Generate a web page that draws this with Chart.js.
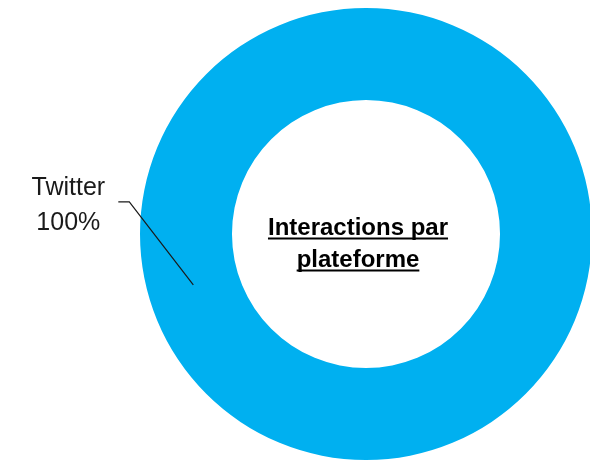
<!DOCTYPE html>
<html>
<head>
<meta charset="utf-8">
<script src="https://cdn.jsdelivr.net/npm/chart.js@4/dist/chart.umd.min.js"></script>
<style>
	html, body { margin: 0; padding: 0; background: #fff; overflow: hidden; }
	#chart { display: block; }
</style>
</head>
<body>
<canvas id="chart" width="600" height="460"></canvas>
<script>
const labels = ['Twitter'];
const values = [100];
const colors = ['#00B0F0'];
const centerLines = ['Interactions par', 'plateforme'];

// angle (deg, canvas coords) where the leader line touches the ring
const labelAngle = 163.6;

const total = values.reduce((a, b) => a + b, 0);

const doughnutText = {
	id: 'doughnutText',
	afterDraw(chart) {
		const ctx = chart.ctx;
		const arc = chart.getDatasetMeta(0).data[0];
		if (!arc) return;
		const { x, y, innerRadius, outerRadius } = arc.getProps(
			['x', 'y', 'innerRadius', 'outerRadius'],
			true
		);

		ctx.save();

		// title in the hole, bold + underlined
		ctx.fillStyle = '#000';
		ctx.strokeStyle = '#000';
		ctx.font = 'bold 24px "Liberation Sans", Arial, sans-serif';
		ctx.textAlign = 'center';
		ctx.textBaseline = 'alphabetic';
		centerLines.forEach((line, i) => {
			const tx = x - 8;
			const ty = y + 1 + i * 32;
			ctx.fillText(line, tx, ty);
			const w = ctx.measureText(line).width;
			ctx.lineWidth = 2;
			ctx.beginPath();
			ctx.moveTo(tx - w / 2, ty + 3.5);
			ctx.lineTo(tx + w / 2, ty + 3.5);
			ctx.stroke();
		});

		// data label with leader line
		const a = (labelAngle * Math.PI) / 180;
		const midR = (innerRadius + outerRadius) / 2;
		const ax = x + midR * Math.cos(a);
		const ay = y + midR * Math.sin(a);
		const ex = ax - 64;
		const ey = ay - 83;

		ctx.strokeStyle = '#1a1a1a';
		ctx.lineWidth = 1.2;
		ctx.beginPath();
		ctx.moveTo(ex - 11, ey);
		ctx.lineTo(ex, ey);
		ctx.lineTo(ax, ay);
		ctx.stroke();

		const pct = Math.round((values[0] / total) * 100) + '%';
		ctx.fillStyle = '#1a1a1a';
		ctx.font = '25px "Liberation Sans", Arial, sans-serif';
		ctx.textAlign = 'center';
		ctx.fillText(labels[0], ex - 61, ey - 7);
		ctx.fillText(pct, ex - 61, ey + 28);

		ctx.restore();
	},
};

new Chart(document.getElementById('chart'), {
	type: 'doughnut',
	data: {
		labels,
		datasets: [
			{
				data: values,
				backgroundColor: colors,
				borderWidth: 0,
			},
		],
	},
	options: {
		responsive: false,
		devicePixelRatio: 1,
		animation: false,
		cutout: '59.3%',
		layout: {
			padding: { left: 140, right: 8, top: 8, bottom: 0 },
		},
		plugins: {
			legend: { display: false },
			tooltip: { enabled: false },
		},
	},
	plugins: [doughnutText],
});
</script>
</body>
</html>
